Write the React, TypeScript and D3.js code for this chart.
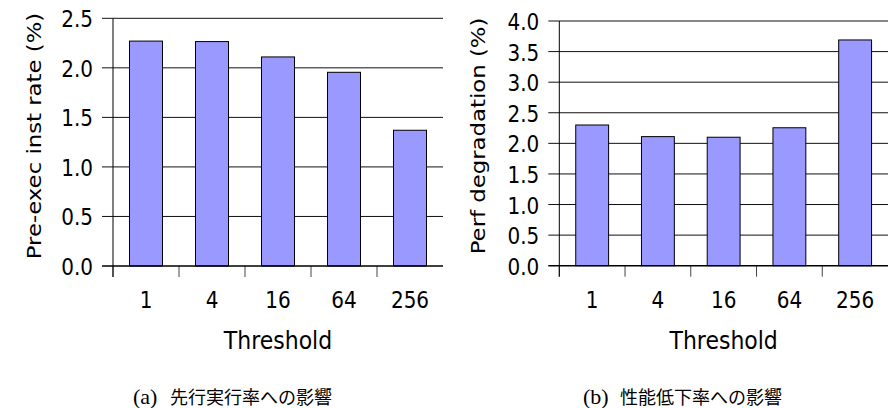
import React from "react";
import * as d3 from "d3";

const categories = ["1", "4", "16", "64", "256"];
const preExecRate = [2.27, 2.265, 2.11, 1.955, 1.37];
const perfDegradation = [2.3, 2.11, 2.1, 2.255, 3.69];
const preExecTicks = [0, 0.5, 1.0, 1.5, 2.0, 2.5];
const perfTicks = [0, 0.5, 1.0, 1.5, 2.0, 2.5, 3.0, 3.5, 4.0];
const xTitle = "Threshold";
const leftYTitle = "Pre-exec inst rate (%)";
const rightYTitle = "Perf degradation (%)";
const leftCaptionLabel = "(a)";
const leftCaption = "先行実行率への影響";
const rightCaptionLabel = "(b)";
const rightCaption = "性能低下率への影響";

const FONT = "'DejaVu Sans', sans-serif";
const fmt = d3.format(".1f");

type PanelProps = {
  x0: number;
  x1: number;
  yTop: number;
  yBot: number;
  ticks: number[];
  values: number[];
  yTitle: string;
  yTitleX: number;
  captionLabel: string;
  caption: string;
  captionX: number;
};

function Panel(p: PanelProps) {
  const max = p.ticks[p.ticks.length - 1];
  const y = d3.scaleLinear().domain([0, max]).range([p.yBot, p.yTop]);
  const x = d3.scaleBand<string>().domain(categories).range([p.x0, p.x1]).padding(0);
  const bw = x.bandwidth();
  const cx = (p.x0 + p.x1) / 2;
  return (
    <g>
      {p.ticks.map((t) => (
        <g key={"g" + t}>
          {t !== 0 && (
            <line x1={p.x0 - 11} x2={p.x1} y1={y(t)} y2={y(t)} stroke="#111" strokeWidth={1} />
          )}
          <text
            transform={`translate(${p.x0 - 20},${y(t) + 9}) scale(1,1.12)`}
            textAnchor="end"
            fontFamily={FONT}
            fontSize={20}
            fill="#000"
          >
            {fmt(t)}
          </text>
        </g>
      ))}
      {categories.map((c, i) => (
        <rect
          key={"b" + c}
          x={(x(c) as number) + bw / 4}
          y={y(p.values[i])}
          width={bw / 2}
          height={y(0) - y(p.values[i])}
          fill="#9999ff"
          stroke="#000"
          strokeWidth={1}
        />
      ))}
      {categories.map((c) => (
        <line
          key={"t" + c}
          x1={x(c) as number}
          x2={x(c) as number}
          y1={p.yBot}
          y2={p.yBot + 11}
          stroke="#444"
          strokeWidth={1}
        />
      ))}
      <line x1={p.x0} x2={p.x0} y1={p.yTop} y2={p.yBot + 11} stroke="#000" strokeWidth={1} />
      <line x1={p.x0 - 11} x2={p.x1} y1={p.yBot} y2={p.yBot} stroke="#000" strokeWidth={1.6} />
      {categories.map((c) => (
        <text
          key={"l" + c}
          transform={`translate(${(x(c) as number) + bw / 2},${p.yBot + 42}) scale(1,1.12)`}
          textAnchor="middle"
          fontFamily={FONT}
          fontSize={20}
          fill="#000"
        >
          {c}
        </text>
      ))}
      <text
        transform={`translate(${cx},${349}) scale(1,1.1)`}
        textAnchor="middle"
        fontFamily={FONT}
        fontSize={22}
        fill="#000"
      >
        {xTitle}
      </text>
      <text
        transform={`translate(${p.yTitleX},${136}) rotate(-90) scale(1.14,1)`}
        textAnchor="middle"
        fontFamily={FONT}
        fontSize={20}
        fill="#000"
      >
        {p.yTitle}
      </text>
      <text
        x={p.captionX}
        y={404}
        fontFamily="'Liberation Serif', 'DejaVu Serif', serif"
        fontSize={22}
        fill="#000"
      >
        {p.captionLabel}
      </text>
      <text
        x={p.captionX + 37}
        y={404}
        fontFamily="'Noto Sans CJK JP', sans-serif"
        fontSize={18}
        fill="#000"
      >
        {p.caption}
      </text>
    </g>
  );
}

export default function App() {
  return (
    <svg
      width={890}
      height={408}
      style={{ position: "absolute", left: 0, top: 0, background: "#fff" }}
    >
      <rect x={0} y={0} width={890} height={408} fill="#fff" />
      <Panel
        x0={113}
        x1={443}
        yTop={18.3}
        yBot={266}
        ticks={preExecTicks}
        values={preExecRate}
        yTitle={leftYTitle}
        yTitleX={40.5}
        captionLabel={leftCaptionLabel}
        caption={leftCaption}
        captionX={133}
      />
      <Panel
        x0={559.3}
        x1={888}
        yTop={21}
        yBot={265.7}
        ticks={perfTicks}
        values={perfDegradation}
        yTitle={rightYTitle}
        yTitleX={485}
        captionLabel={rightCaptionLabel}
        caption={rightCaption}
        captionX={583}
      />
    </svg>
  );
}
